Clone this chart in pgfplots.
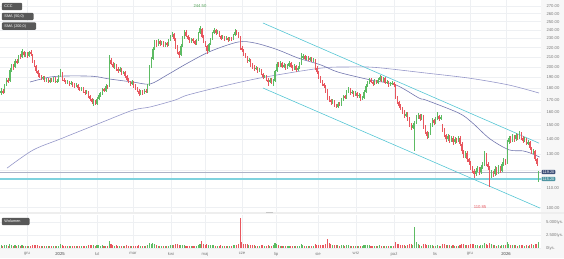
\documentclass[border=0pt]{standalone}
\usepackage{fontspec}
\setmainfont{Liberation Sans}
\usepackage{pgfplots}
\usepackage{pgfplotstable}
\pgfplotsset{compat=1.18}
\definecolor{cup}{HTML}{5DBB63}
\definecolor{cdn}{HTML}{E8575F}
\definecolor{chan}{HTML}{56C6D4}
\definecolor{smaA}{HTML}{7276AE}
\definecolor{smaB}{HTML}{9597C9}
\definecolor{gridc}{HTML}{EEF0F3}
\definecolor{labc}{HTML}{7A7A7A}
\definecolor{boxc}{HTML}{585858}
\definecolor{navyb}{HTML}{3F5078}
\definecolor{tealb}{HTML}{4E95A2}
\definecolor{hline}{HTML}{AEB2C6}
\definecolor{cline}{HTML}{7FD2DE}

\pgfplotstableread{
d o h l c v
0 176.0 180.0 174.5 178.0 520
1 178.0 179.5 175.0 176.0 430
2 177.0 184.0 176.0 183.0 610
3 183.0 189.5 182.0 188.0 650
4 188.0 189.0 184.5 186.0 480
5 187.0 198.5 186.0 197.0 720
6 197.0 203.0 195.5 201.0 640
7 201.0 202.5 197.0 199.0 450
8 200.0 207.5 199.0 206.0 560
9 206.0 208.0 202.5 204.0 420
10 205.0 212.5 204.0 211.0 530
11 211.0 213.0 207.5 209.0 400
12 210.0 218.0 209.0 216.0 590
13 215.0 216.5 210.5 212.0 470
14 212.0 215.5 210.0 214.0 380
15 214.0 215.0 209.0 211.0 410
16 211.0 216.5 210.0 215.0 450
17 215.0 217.0 211.5 213.0 390
18 212.0 213.0 203.5 205.0 620
19 205.0 206.5 199.5 201.0 540
20 201.0 202.0 194.5 196.0 580
21 196.0 197.5 190.0 193.0 510
22 193.0 194.5 189.5 191.0 430
23 191.0 192.5 187.5 189.0 400
24 189.0 191.5 188.0 190.0 360
25 190.0 191.0 185.5 187.0 420
26 187.0 189.5 186.0 188.0 350
27 188.0 189.0 184.5 186.0 380
28 186.0 189.5 185.0 188.0 340
29 188.0 189.0 185.5 187.0 300
30 187.0 190.5 186.0 189.0 370
31 189.0 190.0 184.5 186.0 410
32 186.0 188.5 185.0 187.0 330
33 187.0 192.5 186.0 191.0 480
34 191.0 198.0 190.0 195.0 690
35 194.0 195.0 187.0 188.0 520
36 188.0 189.5 185.5 187.0 380
37 187.0 188.0 183.5 185.0 410
38 185.0 187.5 184.0 186.0 320
39 186.0 187.0 182.5 184.0 360
40 184.0 186.5 183.0 185.0 300
41 185.0 186.0 181.5 183.0 390
42 183.0 184.5 180.5 182.0 350
43 182.0 184.5 181.0 183.0 310
44 183.0 184.0 178.5 180.0 430
45 180.0 181.5 177.5 179.0 380
46 179.0 181.5 178.0 180.0 320
47 180.0 181.0 175.5 177.0 450
48 177.0 178.5 174.5 176.0 400
49 176.0 178.5 175.0 177.0 330
50 177.0 178.0 171.5 173.0 520
51 173.0 174.5 169.5 171.0 560
52 171.0 172.0 166.5 168.0 610
53 168.0 170.5 165.0 169.0 580
54 169.0 170.0 165.5 167.0 470
55 167.0 172.5 166.0 171.0 520
56 171.0 175.5 170.0 174.0 490
57 174.0 176.5 172.5 175.0 410
58 175.0 180.5 174.0 179.0 530
59 179.0 180.5 176.5 178.0 380
60 178.0 183.5 177.0 182.0 460
61 182.0 183.0 179.5 181.0 400
62 182.0 212.0 181.0 207.0 1350
63 207.0 209.5 201.5 203.0 820
64 203.0 205.0 198.5 200.0 610
65 200.0 203.5 198.0 202.0 480
66 202.0 203.0 196.5 198.0 520
67 198.0 199.5 194.5 196.0 450
68 196.0 199.5 195.0 198.0 390
69 198.0 199.0 192.5 194.0 470
70 194.0 196.5 193.0 195.0 350
71 195.0 196.0 189.5 191.0 440
72 191.0 192.5 186.5 188.0 500
73 188.0 189.5 184.5 186.0 460
74 186.0 187.0 182.5 184.0 420
75 184.0 187.5 183.0 186.0 380
76 186.0 187.0 180.5 182.0 470
77 182.0 183.5 178.5 180.0 430
78 180.0 181.5 176.5 178.0 450
79 178.0 179.0 173.0 175.0 560
80 175.0 178.5 174.0 177.0 410
81 177.0 178.5 174.5 176.0 350
82 176.0 179.5 175.0 178.0 380
83 178.0 179.0 175.5 177.0 320
84 177.0 183.5 176.0 182.0 530
85 183.0 201.5 182.0 200.0 980
86 200.0 210.0 199.0 208.0 850
87 208.0 221.0 207.0 219.0 900
88 219.0 228.0 217.5 226.0 760
89 226.0 228.5 221.0 223.0 540
90 223.0 229.0 222.0 227.0 480
91 227.0 228.5 222.0 224.0 450
92 224.0 227.5 223.0 226.0 380
93 226.0 227.0 220.5 222.0 430
94 222.0 226.5 221.0 225.0 360
95 225.0 226.0 221.0 223.0 340
96 223.0 229.5 222.0 228.0 470
97 228.0 234.5 227.0 233.0 520
98 233.0 238.0 232.0 236.0 560
99 235.0 236.5 227.5 229.0 610
100 229.0 230.5 219.0 221.0 720
101 221.0 222.5 213.5 215.0 680
102 215.0 216.5 209.0 212.0 650
103 212.0 223.5 211.0 222.0 590
104 222.0 232.5 221.0 231.0 620
105 231.0 240.0 230.0 238.0 580
106 238.0 239.5 231.5 233.0 470
107 233.0 234.5 228.5 230.0 430
108 230.0 231.5 224.5 226.0 460
109 226.0 230.5 225.0 229.0 380
110 229.0 230.5 225.5 227.0 350
111 227.0 228.5 222.5 224.0 410
112 224.0 229.5 223.0 228.0 440
113 228.0 237.5 227.0 236.0 620
114 236.0 244.5 235.0 242.0 780
115 241.0 242.0 230.5 232.0 1300
116 232.0 233.5 224.5 226.0 720
117 226.0 227.5 220.5 222.0 650
118 222.0 223.0 213.0 216.0 700
119 216.0 225.5 215.0 224.0 560
120 224.0 230.5 223.0 229.0 520
121 229.0 237.5 228.0 236.0 580
122 236.0 242.0 235.0 240.0 610
123 240.0 241.0 234.5 236.0 480
124 236.0 239.5 235.0 238.0 420
125 238.0 239.0 231.5 233.0 460
126 233.0 234.5 228.5 230.0 510
127 230.0 233.5 229.0 232.0 400
128 232.0 233.0 227.5 229.0 430
129 229.0 232.5 228.0 231.0 380
130 231.0 232.0 226.5 228.0 440
131 228.0 231.5 227.0 230.0 370
132 230.0 231.5 227.5 229.0 350
133 229.0 235.5 228.0 234.0 520
134 234.0 241.0 233.0 238.0 640
135 238.0 239.5 234.0 236.0 560
136 236.0 237.0 230.5 232.0 710
137 232.0 233.0 217.5 220.0 5800
138 220.0 221.5 215.5 217.0 1100
139 217.0 218.5 211.5 213.0 860
140 213.0 214.5 208.5 210.0 740
141 210.0 211.0 204.0 206.0 690
142 206.0 208.5 204.5 207.0 520
143 207.0 208.0 200.0 202.0 610
144 202.0 203.5 198.0 200.0 560
145 200.0 201.5 196.0 198.0 520
146 198.0 200.5 197.0 199.0 430
147 199.0 200.0 194.5 196.0 480
148 196.0 198.5 195.0 197.0 400
149 197.0 198.0 192.0 193.0 530
150 193.0 194.5 188.5 190.0 570
151 190.0 192.5 189.0 191.0 430
152 191.0 192.0 186.5 188.0 480
153 188.0 189.0 182.5 186.0 620
154 186.0 189.5 185.0 188.0 470
155 188.0 189.0 183.5 185.0 440
156 185.0 188.5 182.0 187.0 520
157 187.0 197.5 186.0 196.0 880
158 196.0 205.0 195.0 203.0 760
159 203.0 204.5 199.5 201.0 520
160 201.0 205.5 200.0 204.0 480
161 204.0 205.0 198.5 200.0 450
162 200.0 203.5 199.0 202.0 390
163 202.0 203.0 197.5 199.0 420
164 199.0 202.5 198.0 201.0 360
165 201.0 205.5 200.0 204.0 430
166 204.0 205.0 198.5 200.0 470
167 200.0 201.5 196.5 198.0 440
168 198.0 202.5 197.0 201.0 390
169 201.0 202.0 195.5 197.0 460
170 197.0 200.5 196.0 199.0 370
171 199.0 204.5 198.0 203.0 480
172 203.0 214.0 202.0 209.0 820
173 209.0 213.0 207.5 211.0 560
174 211.0 212.5 206.5 208.0 470
175 208.0 211.5 207.0 210.0 420
176 210.0 211.0 205.5 207.0 450
177 207.0 210.5 206.0 209.0 380
178 209.0 210.0 204.5 206.0 430
179 206.0 208.5 205.0 207.0 360
180 207.0 208.0 197.5 199.0 720
181 199.0 200.5 193.5 195.0 640
182 195.0 196.5 188.5 190.0 610
183 190.0 191.5 184.5 186.0 580
184 186.0 187.5 182.5 184.0 520
185 184.0 185.0 180.5 182.0 560
186 182.0 183.0 176.0 178.0 780
187 178.0 179.0 170.0 172.0 1800
188 172.0 173.5 168.0 170.0 950
189 170.0 171.0 166.0 168.0 720
190 168.0 170.5 167.0 169.0 560
191 169.0 170.0 164.5 166.0 610
192 166.0 167.0 163.0 164.5 580
193 164.5 168.5 163.5 167.0 520
194 167.0 168.0 165.0 166.0 430
195 166.0 171.5 165.0 170.0 490
196 170.0 174.5 169.0 173.0 530
197 173.0 174.0 170.5 172.0 410
198 172.0 178.5 171.0 177.0 580
199 177.0 181.0 176.0 179.0 620
200 179.0 180.0 174.5 176.0 470
201 176.0 178.5 175.0 177.0 390
202 177.0 178.0 172.5 174.0 440
203 174.0 177.5 173.0 176.0 380
204 176.0 177.0 171.5 173.0 420
205 173.0 175.5 172.0 174.0 350
206 174.0 175.0 169.5 171.0 460
207 171.0 173.5 170.0 172.0 400
208 172.0 178.5 171.0 177.0 560
209 177.0 183.5 176.0 182.0 640
210 182.0 186.5 181.0 185.0 590
211 185.0 189.5 184.0 188.0 560
212 188.0 189.0 184.5 186.0 430
213 186.0 187.0 182.5 184.0 410
214 184.0 188.5 183.0 187.0 450
215 187.0 188.0 183.5 185.0 390
216 185.0 189.5 184.0 188.0 420
217 188.0 192.0 187.0 190.0 510
218 190.0 191.0 185.5 187.0 440
219 187.0 190.5 186.0 189.0 380
220 189.0 190.0 183.5 185.0 460
221 185.0 187.5 184.0 186.0 350
222 186.0 187.0 181.5 183.0 430
223 183.0 185.5 182.0 184.0 370
224 184.0 186.5 183.0 185.0 340
225 185.0 186.0 181.5 183.0 410
226 183.0 184.0 170.5 172.0 1100
227 172.0 173.0 166.5 168.0 780
228 168.0 169.5 163.5 165.0 690
229 165.0 166.5 161.5 163.0 620
230 163.0 164.0 158.5 160.0 650
231 160.0 161.5 155.5 157.0 600
232 157.0 160.5 156.0 159.0 480
233 159.0 160.0 153.5 155.0 560
234 155.0 156.0 148.5 150.0 720
235 150.0 151.5 146.5 148.0 680
236 148.0 151.5 147.0 150.0 540
237 150.0 153.5 132.0 152.0 4000
238 152.0 157.5 151.0 156.0 1200
239 156.0 159.5 155.0 158.0 780
240 158.0 159.0 153.5 155.0 560
241 155.0 158.5 154.0 157.0 480
242 157.0 158.0 147.5 149.0 720
243 149.0 150.0 143.5 145.0 680
244 145.0 146.0 140.5 142.0 650
245 142.0 145.5 141.0 144.0 520
246 144.0 151.5 143.0 150.0 610
247 150.0 155.5 149.0 154.0 580
248 154.0 155.0 150.5 152.0 430
249 152.0 156.5 151.0 155.0 450
250 155.0 160.0 154.0 157.0 520
251 157.0 158.0 153.5 155.0 420
252 155.0 157.5 154.0 156.0 380
253 150.0 151.0 145.5 147.0 860
254 147.0 148.0 141.5 143.0 720
255 143.0 144.0 138.5 140.0 650
256 140.0 143.5 139.0 142.0 520
257 142.0 143.0 137.5 139.0 560
258 139.0 142.5 138.0 141.0 460
259 141.0 142.0 136.5 138.0 510
260 138.0 141.5 137.0 140.0 440
261 140.0 141.0 137.5 139.0 400
262 139.0 142.5 138.0 141.0 420
263 141.0 142.0 135.5 137.0 580
264 137.0 138.0 130.5 132.0 720
265 132.0 133.0 127.5 129.0 690
266 129.0 132.5 128.0 131.0 540
267 131.0 132.0 125.5 127.0 620
268 127.0 128.0 123.5 125.0 650
269 125.0 126.0 120.5 122.0 700
270 122.0 123.0 118.5 120.0 680
271 120.0 121.0 116.0 118.0 760
272 118.0 121.5 117.0 120.0 590
273 120.0 122.5 119.0 121.0 520
274 121.0 122.0 117.5 119.0 480
275 119.0 123.5 118.0 122.0 530
276 122.0 125.5 121.0 124.0 560
277 124.0 132.0 123.0 130.0 880
278 130.0 131.0 122.5 124.0 760
279 124.0 125.0 120.5 122.0 640
280 122.0 123.0 110.85 117.0 920
281 117.0 120.5 116.0 119.0 700
282 119.0 120.0 116.5 118.0 560
283 118.0 122.5 117.0 121.0 590
284 121.0 122.0 117.5 119.0 480
285 119.0 123.5 118.0 122.0 520
286 122.0 123.0 118.5 120.0 460
287 120.0 125.5 119.0 124.0 580
288 124.0 127.5 123.0 126.0 610
289 126.0 127.0 123.5 125.0 500
290 125.0 139.5 124.0 138.0 1150
291 138.0 142.5 137.0 141.0 820
292 141.0 142.0 137.5 139.0 640
293 139.0 143.5 138.0 142.0 590
294 142.0 143.0 138.5 140.0 520
295 140.0 144.5 139.0 143.0 560
296 143.0 144.0 139.5 141.0 480
297 141.0 146.0 140.0 144.0 610
298 144.0 145.0 139.5 141.0 540
299 141.0 142.0 137.5 139.0 500
300 139.0 141.5 138.0 140.0 430
301 140.0 141.0 136.0 137.0 560
302 137.0 139.5 136.0 138.0 440
303 138.0 139.0 133.0 134.0 620
304 134.0 135.0 130.0 131.0 680
305 131.0 133.5 130.0 132.0 520
306 132.0 133.0 126.0 127.0 730
307 127.0 128.0 122.5 124.0 760
308 115.0 120.0 113.6 119.2 1250
}\candles

\pgfplotstableread{
d s
16.6 185.7
28 190.3
37.8 191.3
52.7 191.0
62.4 188.4
75.6 185.7
85.4 183.9
95.1 192.2
107 203.9
120 216.0
135.8 226.1
145.5 225.0
158 218.0
170.2 209.0
183.4 201.9
193.1 195.0
212 187.5
226.3 183.0
239.5 171.6
243.5 169.9
262.4 159.3
270 152.0
280 140.5
291 133.0
299 132.3
304 130.6
308.6 128.3
}\smafifty

\pgfplotstableread{
d s
3.4 121.5
18.3 132.8
33.8 140.2
56.7 151.7
75.6 161.7
85.4 164.2
99.7 169.9
107 174.2
130 183.0
151.3 190.3
183.4 198.9
200 200.0
214.9 199.5
243.5 194.1
268.2 189.3
291 183.0
308.3 175.9
}\smatwohundred

\begin{document}
\begin{tikzpicture}
\fill[gray!6] (541pt,0pt) rectangle (564pt,258pt);
\fill[gray!6] (0pt,0pt) rectangle (564pt,9pt);
\fill[gray!13] (0pt,44.2pt) rectangle (564pt,46.3pt);
\fill[gray!45] (266pt,44.8pt) rectangle (273pt,45.7pt);

\pgfplotsset{
  every axis/.append style={
    scale only axis, width=541pt, anchor=south west,
    xmin=-0.6, xmax=309.43,
    axis line style={draw=none}, major tick length=0pt,
    grid=major, major grid style={draw=gridc, line width=0.45pt},
    tick label style={font=\fontsize{4.2}{5}\selectfont, text=labc},
    /pgf/number format/assume math mode=true,
    yticklabel pos=right,
    xtick={14.9,33.8,55,75.6,97.4,116.9,138.1,157.6,181.6,203.4,225.2,248.7,268.7,289.4},
    clip=false,
  }
}

\begin{axis}[
  at={(0pt,46.3pt)}, height=211.7pt,
  ymode=log, ymin=98.05, ymax=278.1,
  ytick={100,110,120,130,140,150,160,170,180,190,200,210,220,230,240,250,260,270},
  yticklabels={100.00,110.00,{},130.00,140.00,150.00,160.00,170.00,180.00,190.00,200.00,210.00,220.00,230.00,240.00,250.00,260.00,270.00},
  xticklabels={},
  yticklabel style={xshift=2pt},
]
% horizontal lines
\addplot[draw=hline, line width=0.5pt] coordinates {(-0.6,119.2) (309.43,119.2)};
\addplot[draw=cline, line width=1.3pt] coordinates {(-0.6,115.2) (309.43,115.2)};
% SMA lines
\addplot[draw=smaB, line width=0.6pt, smooth, tension=0.5] table[x=d, y=s] {\smatwohundred};
\addplot[draw=smaA, line width=0.6pt, smooth, tension=0.5] table[x=d, y=s] {\smafifty};
% channel
\addplot[draw=chan, line width=0.6pt] coordinates {(150.1,248.3) (308.3,137.4)};
\addplot[draw=chan, line width=0.6pt] coordinates {(150.1,180.3) (308.9,99.8)};
% wicks
\addplot[draw=none, mark=none, error bars/.cd, y dir=both, y explicit, error mark=none,
  error bar style={draw=cup, line width=0.35pt}]
  table[x=d, y expr={(\thisrow{c}>=\thisrow{o}) ? \thisrow{c} : nan},
        y error plus expr={\thisrow{h}-\thisrow{c}}, y error minus expr={\thisrow{c}-\thisrow{l}}] {\candles};
\addplot[draw=none, mark=none, error bars/.cd, y dir=both, y explicit, error mark=none,
  error bar style={draw=cdn, line width=0.35pt}]
  table[x=d, y expr={(\thisrow{c}<\thisrow{o}) ? \thisrow{c} : nan},
        y error plus expr={\thisrow{h}-\thisrow{c}}, y error minus expr={\thisrow{c}-\thisrow{l}}] {\candles};
% bodies
\addplot[draw=none, mark=none, error bars/.cd, y dir=both, y explicit, error mark=none,
  error bar style={draw=cup, line width=1.1pt}]
  table[x=d, y expr={(\thisrow{c}>=\thisrow{o}) ? \thisrow{c} : nan},
        y error plus expr={0}, y error minus expr={\thisrow{c}-\thisrow{o}}] {\candles};
\addplot[draw=none, mark=none, error bars/.cd, y dir=both, y explicit, error mark=none,
  error bar style={draw=cdn, line width=1.1pt}]
  table[x=d, y expr={(\thisrow{c}<\thisrow{o}) ? \thisrow{o} : nan},
        y error plus expr={0}, y error minus expr={\thisrow{o}-\thisrow{c}}] {\candles};
\coordinate (pA) at (axis cs:309.43,119.2);
\coordinate (pB) at (axis cs:309.43,115.2);
\coordinate (mx) at (axis cs:114,270);
\coordinate (mn) at (axis cs:274.5,100.3);
\end{axis}

\begin{axis}[
  at={(0pt,10pt)}, height=33pt,
  ymin=0, ymax=6350,
  ytick={0,2500,5000}, yticklabels={0tys.,2.500tys.,5.000tys.},
  yticklabel style={xshift=1.5pt},
  xticklabels={gru,{\color{black!75}2025},lut,mar,kwi,maj,cze,lip,sie,wrz,paź,lis,gru,{\color{black!75}2026}},
  xticklabel style={yshift=-0.8pt},
]
\addplot[ycomb, draw=cup, line width=1.05pt, mark=none]
  table[x=d, y expr={(\thisrow{c}>=\thisrow{o}) ? \thisrow{v} : nan}] {\candles};
\addplot[ycomb, draw=cdn, line width=1.05pt, mark=none]
  table[x=d, y expr={(\thisrow{c}<\thisrow{o}) ? \thisrow{v} : nan}] {\candles};
\end{axis}

% price tags
\node[anchor=west, fill=navyb, text=white, rounded corners=0.8pt, inner xsep=1.2pt, inner ysep=0.7pt,
  font=\fontsize{3.8}{4}\selectfont] at ([xshift=0.5pt]pA) {119.20};
\node[anchor=west, fill=tealb, text=white, rounded corners=0.8pt, inner xsep=1.2pt, inner ysep=0.7pt,
  font=\fontsize{3.8}{4}\selectfont] at ([xshift=0.5pt]pB) {115.20};
% max / min
\node[text=cup!85!black, font=\fontsize{4.2}{5}\selectfont] at (mx) {244.50};
\node[text=cdn, font=\fontsize{4.2}{5}\selectfont] at (mn) {110.85};
% legend boxes
\begin{scope}[every node/.style={anchor=north west, fill=boxc, text=white, rounded corners=1pt,
  font=\fontsize{3.8}{4}\selectfont, inner xsep=2.6pt, inner ysep=0pt, minimum height=7.4pt, align=left}]
\node[text width=15pt] at (1.7pt,255.4pt) {CCC};
\node[text width=26.4pt] at (1.7pt,245.4pt) {SMA (50,0)};
\node[text width=29pt] at (1.7pt,235.8pt) {SMA (200,0)};
\node[text width=22.4pt] at (1.7pt,40.4pt) {Wolumen};
\end{scope}
\pgfresetboundingbox
\path[use as bounding box] (0pt,0pt) rectangle (564pt,258pt);
\end{tikzpicture}
\end{document}
